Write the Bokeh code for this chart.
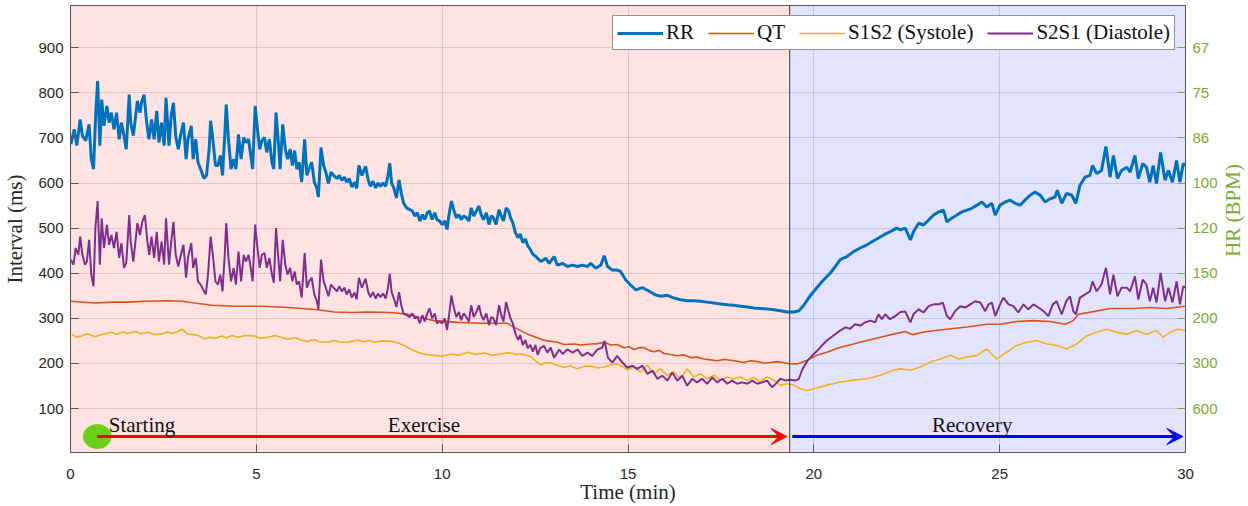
from bokeh.plotting import figure
from bokeh.layouts import row
from bokeh.models import (Range1d, LinearAxis, FixedTicker, BoxAnnotation, Span,
                          Arrow, VeeHead, Legend, LegendItem, Label)
from bokeh.embed import file_html
from bokeh.resources import INLINE

# ---------------------------------------------------------------- data
# RR interval (ms) over time (min)
rr_t = [0.01, 0.10, 0.17, 0.26, 0.32, 0.41, 0.50, 0.56, 0.62, 0.68, 0.73, 0.79, 0.84, 0.90, 0.98,
        1.04, 1.10, 1.17, 1.24, 1.31, 1.37, 1.44, 1.50, 1.58, 1.62, 1.69, 1.80, 1.87, 1.91, 1.98,
        2.05, 2.11, 2.18, 2.25, 2.32, 2.38, 2.45, 2.52, 2.57, 2.65, 2.71, 2.77, 2.83, 2.90, 2.96,
        3.04, 3.11, 3.16, 3.25, 3.30, 3.37, 3.43, 3.50, 3.59, 3.66, 3.73, 3.77, 3.83, 3.90, 3.97,
        4.03, 4.09, 4.15, 4.19, 4.25, 4.32, 4.39, 4.45, 4.52, 4.59, 4.66, 4.72, 4.79, 4.85, 4.90,
        4.97, 5.03, 5.09, 5.15, 5.22, 5.28, 5.35, 5.42, 5.47, 5.53, 5.60, 5.64, 5.71, 5.78, 5.84,
        5.91, 5.97, 6.03, 6.09, 6.15, 6.22, 6.30, 6.36, 6.42, 6.49, 6.56, 6.63, 6.67, 6.74, 6.81,
        6.87, 6.94, 7.01, 7.08, 7.17, 7.23, 7.30, 7.37, 7.43, 7.50, 7.57, 7.64, 7.70, 7.76, 7.84,
        7.94, 8.01, 8.07, 8.14, 8.21, 8.27, 8.34, 8.41, 8.48, 8.54, 8.59, 8.64, 8.70, 8.77, 8.84,
        8.90, 8.96, 9.04, 9.13, 9.20, 9.26, 9.33, 9.40, 9.47, 9.53, 9.60, 9.66, 9.73, 9.80, 9.86,
        9.93, 10.00, 10.07, 10.13, 10.18, 10.25, 10.31, 10.38, 10.45, 10.51, 10.58, 10.65, 10.72,
        10.78, 10.85, 10.92, 10.99, 11.05, 11.11, 11.19, 11.26, 11.32, 11.38, 11.45, 11.53, 11.59,
        11.65, 11.72, 11.79, 11.84, 11.90, 11.97, 12.04, 12.10, 12.17, 12.24, 12.30, 12.37, 12.44,
        12.52, 12.65, 12.79, 12.88, 13.01, 13.10, 13.24, 13.37, 13.51, 13.64, 13.77, 13.91, 14.00,
        14.13, 14.27, 14.36, 14.45, 14.58, 14.71, 14.80, 14.94, 15.07, 15.21, 15.39, 15.57, 15.74,
        15.88, 16.06, 16.24, 16.42, 16.60, 16.77, 16.95, 17.13, 17.31, 17.49, 17.67, 17.85, 18.03,
        18.21, 18.39, 18.57, 18.74, 18.92, 19.10, 19.28, 19.46, 19.60, 19.73, 19.90, 20.08, 20.26,
        20.44, 20.58, 20.71, 20.89, 21.07, 21.25, 21.43, 21.61, 21.74, 21.88, 22.05, 22.23, 22.33,
        22.46, 22.60, 22.68, 22.82, 22.95, 23.09, 23.22, 23.36, 23.49, 23.58, 23.71, 23.85, 23.98,
        24.12, 24.25, 24.39, 24.52, 24.65, 24.79, 24.88, 25.01, 25.15, 25.28, 25.42, 25.55, 25.68,
        25.82, 25.95, 26.09, 26.22, 26.36, 26.49, 26.55, 26.67, 26.80, 26.94, 27.05, 27.16, 27.30,
        27.43, 27.50, 27.61, 27.74, 27.86, 27.97, 28.06, 28.17, 28.28, 28.42, 28.51, 28.64, 28.73,
        28.85, 28.95, 29.04, 29.13, 29.22, 29.33, 29.45, 29.54, 29.65, 29.76, 29.85, 29.94, 30.00]
rr_ms = [686, 719, 683, 741, 705, 694, 730, 653, 631, 756, 826, 683, 785, 727, 771,
         734, 756, 719, 756, 697, 734, 705, 675, 796, 734, 705, 782, 756, 778, 796,
         734, 697, 741, 697, 760, 690, 734, 683, 789, 683, 749, 778, 705, 675, 705,
         734, 653, 697, 727, 653, 697, 646, 631, 610, 617, 675, 738, 697, 639, 639,
         661, 617, 705, 774, 697, 631, 653, 631, 708, 653, 701, 690, 697, 661, 631,
         771, 719, 675, 694, 701, 668, 697, 646, 631, 756, 683, 631, 730, 675, 653,
         675, 639, 672, 631, 646, 602, 697, 617, 631, 646, 602, 588, 569, 679, 639,
         624, 599, 624, 617, 610, 617, 606, 613, 602, 610, 591, 602, 588, 639, 617,
         637, 607, 593, 604, 589, 600, 593, 600, 593, 615, 644, 600, 589, 567, 607,
         578, 556, 545, 541, 538, 527, 534, 516, 530, 519, 534, 538, 519, 534, 519,
         516, 508, 516, 497, 527, 560, 541, 523, 530, 519, 527, 523, 516,
         545, 527, 538, 549, 530, 519, 534, 508, 527, 523, 508, 541, 527,
         516, 545, 538, 523, 512, 490, 479, 487, 468, 476, 461, 453, 442,
         437, 426, 433, 422, 437, 418, 422, 415, 418, 415, 418, 415, 422,
         411, 418, 439, 415, 407, 407, 404, 385, 374, 363, 368, 360, 352,
         349, 351, 345, 341, 339, 339, 338, 336, 334, 332, 330, 329, 327,
         325, 323, 322, 321, 319, 317, 314, 314, 317, 329, 350, 368, 385,
         400, 415, 430, 437, 448, 456, 463, 472, 478, 485, 492, 500, 496,
         500, 474, 492, 511, 507, 518, 529, 536, 540, 514, 522, 529, 536,
         540, 544, 551, 558, 547, 555, 529, 551, 558, 562, 555, 551, 562,
         573, 580, 573, 558, 565, 569, 584, 555, 577, 573, 555, 595, 613,
         617, 639, 621, 628, 681, 613, 661, 610, 628, 635, 624, 661, 610,
         643, 635, 602, 639, 599, 668, 606, 628, 602, 650, 602, 643, 639]

# QT interval (ms)
qt_t = [0.00, 0.65, 1.20, 1.55, 2.00, 2.62, 3.00, 3.34, 3.79, 4.41, 5.13, 5.85, 6.65, 7.10, 7.55,
        8.00, 8.62, 9.07, 9.40, 9.79, 10.42, 11.04, 11.76, 11.94, 12.30, 12.65, 12.83, 13.10,
        13.28, 13.55, 13.73, 14.00, 14.18, 14.36, 14.54, 14.71, 14.89, 15.03, 15.16, 15.30, 15.43,
        15.57, 15.70, 15.84, 15.97, 16.15, 16.33, 16.50, 16.68, 16.86, 17.04, 17.22, 17.40, 17.58,
        17.76, 17.94, 18.12, 18.30, 18.48, 18.66, 18.83, 19.01, 19.19, 19.32, 19.46, 19.55, 19.82,
        20.08, 20.35, 20.71, 21.07, 21.43, 21.79, 22.14, 22.46, 22.64, 23.04, 23.58, 24.12, 24.65,
        25.01, 25.46, 25.91, 26.36, 26.76, 26.98, 27.12, 27.52, 27.97, 28.59, 29.04, 29.49, 29.98]
qt_ms = [338, 334, 336, 336, 338, 339, 338, 334, 329, 327, 327, 324, 319, 314, 313,
         314, 313, 309, 302, 295, 291, 289, 289, 280, 265, 254, 250, 247,
         242, 243, 241, 243, 244, 247, 241, 242, 235, 237, 231, 235, 235,
         229, 226, 229, 222, 220, 217, 219, 213, 214, 210, 208, 206, 209,
         207, 205, 202, 206, 204, 201, 202, 204, 202, 200, 199, 199, 207,
         218, 225, 236, 243, 251, 258, 265, 271, 264, 271, 276, 281, 287,
         287, 293, 295, 293, 287, 295, 309, 315, 322, 322, 324, 322, 327]

# S1S2 interval, systole (ms)
s1s2_t = [0.03, 0.15, 0.30, 0.45, 0.65, 0.80, 1.10, 1.25, 1.40, 1.55, 1.75, 1.90, 2.09, 2.25,
          2.44, 2.60, 2.75, 2.89, 3.00, 3.16, 3.30, 3.45, 3.61, 3.75, 3.90, 4.06, 4.20, 4.35,
          4.50, 4.70, 4.95, 5.10, 5.31, 5.50, 5.70, 5.85, 6.05, 6.20, 6.38, 6.55, 6.70, 6.92,
          7.10, 7.28, 7.46, 7.60, 7.73, 7.90, 8.05, 8.18, 8.40, 8.62, 8.80, 8.98, 9.15, 9.34,
          9.55, 9.79, 10.00, 10.24, 10.45, 10.68, 10.90, 11.13, 11.35, 11.58, 11.80, 12.00,
          12.12, 12.39, 12.52, 12.65, 12.80, 12.92, 13.10, 13.28, 13.45, 13.64, 13.82, 14.00,
          14.18, 14.36, 14.55, 14.71, 14.85, 14.98, 15.16, 15.34, 15.52, 15.70, 15.87, 16.05,
          16.23, 16.41, 16.59, 16.77, 16.95, 17.13, 17.31, 17.49, 17.67, 17.85, 18.02, 18.20,
          18.38, 18.56, 18.74, 18.92, 19.10, 19.28, 19.46, 19.64, 19.82, 20.00, 20.35, 20.71,
          21.07, 21.43, 21.79, 22.14, 22.33, 22.60, 22.86, 23.13, 23.40, 23.67, 23.89, 24.12,
          24.39, 24.65, 24.92, 25.19, 25.46, 25.73, 26.00, 26.27, 26.54, 26.80, 27.07, 27.34,
          27.61, 27.88, 28.15, 28.42, 28.68, 28.95, 29.22, 29.40, 29.58, 29.80, 30.00]
s1s2_ms = [265, 259, 261, 266, 259, 263, 269, 265, 270, 267, 271, 266, 269, 264,
           265, 270, 267, 271, 276, 265, 264, 262, 254, 258, 256, 261, 257, 262,
           258, 262, 261, 256, 258, 262, 257, 254, 257, 252, 249, 253, 248, 247,
           251, 247, 247, 250, 252, 248, 251, 247, 250, 249, 246, 240, 232, 225,
           220, 218, 216, 221, 218, 225, 220, 223, 218, 221, 224, 220,
           221, 215, 205, 197, 202, 201, 196, 191, 195, 188, 194, 194,
           190, 192, 197, 199, 193, 186, 192, 181, 196, 177, 188, 174,
           181, 166, 188, 170, 177, 166, 174, 163, 170, 166, 170, 163,
           169, 159, 170, 163, 152, 155, 152, 144, 140, 144, 152, 159,
           163, 166, 174, 185, 188, 185, 192, 203, 210, 218, 210, 214,
           218, 232, 210, 225, 240, 247, 251, 243, 240, 232, 243, 261,
           269, 276, 269, 265, 273, 265, 273, 258, 269, 276, 273]

# S2S1 interval, diastole (ms)
s2s1_t = [0.01, 0.08, 0.14, 0.21, 0.26, 0.32, 0.39, 0.44, 0.50, 0.56, 0.62, 0.67, 0.73, 0.79,
          0.84, 0.90, 0.98, 1.04, 1.10, 1.17, 1.24, 1.31, 1.37, 1.44, 1.50, 1.58, 1.62, 1.69,
          1.80, 1.87, 1.93, 2.00, 2.07, 2.12, 2.18, 2.25, 2.32, 2.38, 2.45, 2.52, 2.57, 2.65,
          2.71, 2.77, 2.83, 2.90, 2.96, 3.04, 3.11, 3.16, 3.25, 3.30, 3.37, 3.43, 3.50, 3.57,
          3.64, 3.70, 3.77, 3.83, 3.90, 3.97, 4.03, 4.09, 4.15, 4.19, 4.25, 4.32, 4.39, 4.45,
          4.52, 4.59, 4.66, 4.72, 4.79, 4.85, 4.90, 4.97, 5.03, 5.09, 5.15, 5.22, 5.28, 5.35,
          5.42, 5.47, 5.53, 5.60, 5.64, 5.71, 5.78, 5.84, 5.91, 5.97, 6.03, 6.09, 6.15, 6.22,
          6.30, 6.36, 6.42, 6.49, 6.56, 6.63, 6.67, 6.74, 6.81, 6.87, 6.94, 7.01, 7.08, 7.17,
          7.23, 7.30, 7.37, 7.43, 7.50, 7.57, 7.64, 7.70, 7.76, 7.84, 7.94, 8.01, 8.07, 8.14,
          8.21, 8.27, 8.34, 8.41, 8.48, 8.54, 8.59, 8.64, 8.70, 8.77, 8.84, 8.90, 8.96, 9.04,
          9.13, 9.20, 9.26, 9.33, 9.40, 9.47, 9.53, 9.60, 9.66, 9.73, 9.80, 9.86, 9.93, 10.00,
          10.07, 10.13, 10.18, 10.25, 10.31, 10.38, 10.45, 10.51, 10.58, 10.65, 10.72, 10.78,
          10.85, 10.92, 10.99, 11.05, 11.11, 11.19, 11.26, 11.32, 11.38, 11.45, 11.53, 11.59,
          11.65, 11.72, 11.79, 11.84, 11.90, 11.97, 12.04, 12.10, 12.17, 12.24, 12.30, 12.37,
          12.44, 12.51, 12.57, 12.64, 12.74, 12.83, 12.92, 13.01, 13.15, 13.24, 13.37, 13.51,
          13.64, 13.77, 13.91, 14.04, 14.18, 14.31, 14.37, 14.46, 14.58, 14.71, 14.85, 14.98,
          15.12, 15.25, 15.39, 15.52, 15.66, 15.79, 15.92, 16.06, 16.19, 16.33, 16.46, 16.59,
          16.73, 16.86, 16.99, 17.13, 17.27, 17.40, 17.54, 17.67, 17.80, 17.94, 18.07, 18.21,
          18.34, 18.48, 18.61, 18.74, 18.88, 19.01, 19.10, 19.24, 19.37, 19.50, 19.60, 19.68,
          19.82, 19.95, 20.09, 20.22, 20.35, 20.53, 20.71, 20.85, 20.98, 21.11, 21.25, 21.38,
          21.52, 21.65, 21.74, 21.83, 21.92, 22.05, 22.19, 22.33, 22.46, 22.60, 22.68, 22.82,
          22.95, 23.09, 23.22, 23.36, 23.47, 23.58, 23.67, 23.80, 23.94, 24.07, 24.21, 24.34,
          24.48, 24.61, 24.70, 24.79, 24.88, 25.01, 25.10, 25.24, 25.37, 25.50, 25.64, 25.77,
          25.91, 26.04, 26.18, 26.31, 26.43, 26.53, 26.67, 26.79, 26.89, 26.98, 27.05, 27.16,
          27.30, 27.43, 27.50, 27.61, 27.74, 27.86, 27.97, 28.06, 28.17, 28.28, 28.42, 28.51,
          28.64, 28.73, 28.85, 28.95, 29.04, 29.13, 29.22, 29.33, 29.45, 29.54, 29.65, 29.76,
          29.85, 29.94, 30.00]
s2s1_ms = [430, 419, 456, 441, 481, 441, 419, 426, 474, 397, 371, 500, 560, 419,
           522, 456, 507, 463, 485, 456, 492, 434, 467, 412, 423, 529, 470, 426,
           511, 485, 514, 529, 470, 441, 481, 434, 492, 426, 470, 419, 522, 419,
           470, 514, 441, 415, 437, 463, 390, 434, 467, 412, 434, 382, 375, 364,
           353, 397, 481, 441, 382, 375, 397, 360, 441, 511, 434, 382, 412, 375,
           448, 382, 441, 426, 441, 412, 382, 508, 456, 412, 441, 445, 412, 434,
           397, 379, 500, 426, 382, 474, 419, 397, 412, 382, 404, 375, 382, 346,
           445, 368, 382, 390, 353, 338, 320, 430, 382, 368, 349, 375, 368, 360,
           371, 360, 368, 353, 364, 346, 357, 342, 390, 368, 388, 358, 347, 358,
           344, 355, 347, 355, 344, 366, 399, 358, 344, 325, 358, 329, 311, 307,
           303, 311, 300, 303, 289, 307, 293, 311, 322, 300, 311, 289, 293, 289,
           300, 274, 303, 351, 325, 303, 314, 296, 311, 303, 293, 329,
           303, 314, 329, 307, 296, 311, 285, 303, 300, 285, 329, 307,
           293, 336, 314, 300, 289, 267, 252, 263, 241, 252, 234, 241,
           226, 241, 219, 234, 239, 224, 235, 213, 231, 221, 231, 224,
           231, 217, 224, 217, 231, 235, 250, 213, 202, 217, 202, 191,
           195, 188, 195, 177, 184, 166, 173, 162, 180, 162, 173, 151,
           166, 158, 166, 155, 169, 158, 166, 155, 162, 155, 158, 155,
           162, 155, 158, 162, 147, 158, 166, 162, 164, 162, 166, 185,
           205, 217, 228, 240, 251, 262, 273, 280, 277, 287, 284, 291,
           295, 291, 309, 298, 309, 298, 305, 314, 315, 291, 309, 320,
           313, 327, 331, 331, 335, 305, 298, 316, 327, 324, 331, 338,
           335, 316, 331, 335, 305, 331, 346, 331, 327, 313, 331, 320,
           331, 324, 316, 305, 331, 338, 309, 338, 349, 316, 309, 346,
           353, 360, 382, 360, 375, 412, 353, 397, 349, 368, 368, 360,
           393, 342, 386, 375, 338, 368, 335, 401, 338, 368, 335, 382,
           331, 371, 368]

# axes ticks
time_ticks = [0, 5, 10, 15, 20, 25, 30]
ms_ticks = [100, 200, 300, 400, 500, 600, 700, 800, 900]
hr_labels = ["600", "300", "200", "150", "120", "100", "86", "75", "67"]

# protocol phases (min) and annotation row (ms)
phase_split = 19.35
start_time = 0.72
arrow_level = 38
phase_label_level = 64
phase_names = ["Starting", "Exercise", "Recovery"]
phase_label_x = [1.03, 9.51, 24.26]

# ---------------------------------------------------------------- styling
SERIF = "Liberation Serif"
SANS = "Liberation Sans"
INK = "#262626"
HR_GREEN = "#77AC30"

p = figure(width=1222, height=506, output_backend="svg", toolbar_location=None,
           x_range=Range1d(0, 30), y_range=Range1d(2.6, 993.6),
           min_border_left=69, min_border_right=37, min_border_top=5, min_border_bottom=50,
           background_fill_color="white", border_fill_color="white")
p.outline_line_color = "#555555"
p.outline_line_width = 1

for ax in (p.xaxis[0], p.yaxis[0]):
    ax.major_tick_in = 8
    ax.major_tick_out = 0
    ax.minor_tick_line_color = None
    ax.axis_line_color = "#555555"
    ax.major_tick_line_color = "#555555"
    ax.major_label_text_font = SANS
    ax.major_label_text_font_size = "15px"
    ax.major_label_text_color = INK
    ax.axis_label_text_font = SERIF
    ax.axis_label_text_font_size = "21px"
    ax.axis_label_text_font_style = "normal"
    ax.axis_label_text_color = INK

p.xaxis.ticker = FixedTicker(ticks=time_ticks)
p.xaxis.axis_label = "Time (min)"
p.xaxis.major_label_standoff = 16
p.xaxis.axis_label_standoff = -2
p.yaxis.ticker = FixedTicker(ticks=ms_ticks)
p.yaxis.axis_label = "Interval (ms)"
p.yaxis.major_label_standoff = 7
p.yaxis.axis_label_standoff = 8

p.xgrid.ticker = FixedTicker(ticks=time_ticks)
p.ygrid.ticker = FixedTicker(ticks=ms_ticks)
for g in (p.xgrid[0], p.ygrid[0]):
    g.grid_line_color = INK
    g.grid_line_alpha = 0.15

# heart-rate scale on the right: same interval positions, labelled in BPM
hr_axis = LinearAxis(ticker=FixedTicker(ticks=ms_ticks),
                     major_label_overrides={t: s for t, s in zip(ms_ticks, hr_labels)})
hr_axis.major_tick_in = 8
hr_axis.major_tick_out = 0
hr_axis.minor_tick_line_color = None
hr_axis.axis_line_color = "#555555"
hr_axis.major_tick_line_color = HR_GREEN
hr_axis.major_label_text_font = SANS
hr_axis.major_label_text_font_size = "15px"
hr_axis.major_label_text_color = HR_GREEN
hr_axis.major_label_standoff = 7
p.add_layout(hr_axis, "right")

# exercise / recovery shading
p.add_layout(BoxAnnotation(left=0, right=phase_split, fill_color="#ff0000", fill_alpha=0.11,
                           line_color=None, level="underlay"))
p.add_layout(BoxAnnotation(left=phase_split, right=30, fill_color="#0000ff", fill_alpha=0.11,
                           line_color=None, level="underlay"))
p.add_layout(Span(location=phase_split, dimension="height", line_color="#3a3a3a", line_width=1))

# interval traces
r_rr = p.line(rr_t, rr_ms, line_color="#0072BD", line_width=3)
r_qt = p.line(qt_t, qt_ms, line_color="#D95319", line_width=1.6)
r_s1 = p.line(s1s2_t, s1s2_ms, line_color="#EDB120", line_width=1.6)
r_s2 = p.line(s2s1_t, s2s1_ms, line_color="#7E2F8E", line_width=2)

# phase arrows and start marker
p.add_layout(Arrow(end=VeeHead(size=16, fill_color="#ff0000", line_color="#ff0000"),
                   x_start=start_time, y_start=arrow_level, x_end=phase_split - 0.07,
                   y_end=arrow_level, line_color="#ff0000", line_width=3))
p.add_layout(Arrow(end=VeeHead(size=16, fill_color="#0000ff", line_color="#0000ff"),
                   x_start=phase_split + 0.07, y_start=arrow_level, x_end=29.93,
                   y_end=arrow_level, line_color="#0000ff", line_width=3))
p.ellipse(x=[start_time], y=[arrow_level], width=28, height=24,
          width_units="screen", height_units="screen",
          fill_color="#6ad11b", line_color="#6ad11b")

for name, xpos in zip(phase_names, phase_label_x):
    p.add_layout(Label(x=xpos, y=phase_label_level, text=name,
                       text_align="left" if name == "Starting" else "center",
                       text_baseline="alphabetic", text_font=SERIF,
                       text_font_size="21px", text_color="#111111"))

legend = Legend(items=[LegendItem(label="RR", renderers=[r_rr]),
                       LegendItem(label="QT", renderers=[r_qt]),
                       LegendItem(label="S1S2 (Systole)", renderers=[r_s1]),
                       LegendItem(label="S2S1 (Diastole)", renderers=[r_s2])],
                location="top_right", orientation="horizontal", margin=10, padding=4,
                spacing=14, glyph_width=46, glyph_height=20, label_standoff=3,
                border_line_color=INK, border_line_width=1, background_fill_alpha=1,
                label_text_font=SERIF, label_text_font_size="21px", label_text_color="#111111")
p.add_layout(legend)

# narrow strip carrying the BPM scale title, reading bottom to top
title_strip = figure(width=26, height=506, output_backend="svg", toolbar_location=None,
                     x_range=Range1d(0, 26), y_range=Range1d(0, 506),
                     min_border=0, outline_line_color=None,
                     background_fill_color="white", border_fill_color="white")
title_strip.axis.visible = False
title_strip.grid.visible = False
title_strip.add_layout(Label(x=10, y=274, text="HR (BPM)", angle=1.5707963,
                             text_align="center", text_baseline="middle", text_font=SERIF,
                             text_font_size="21px", text_color=HR_GREEN))

layout = row(p, title_strip)
open("out.html", "w").write(file_html(layout, INLINE))
